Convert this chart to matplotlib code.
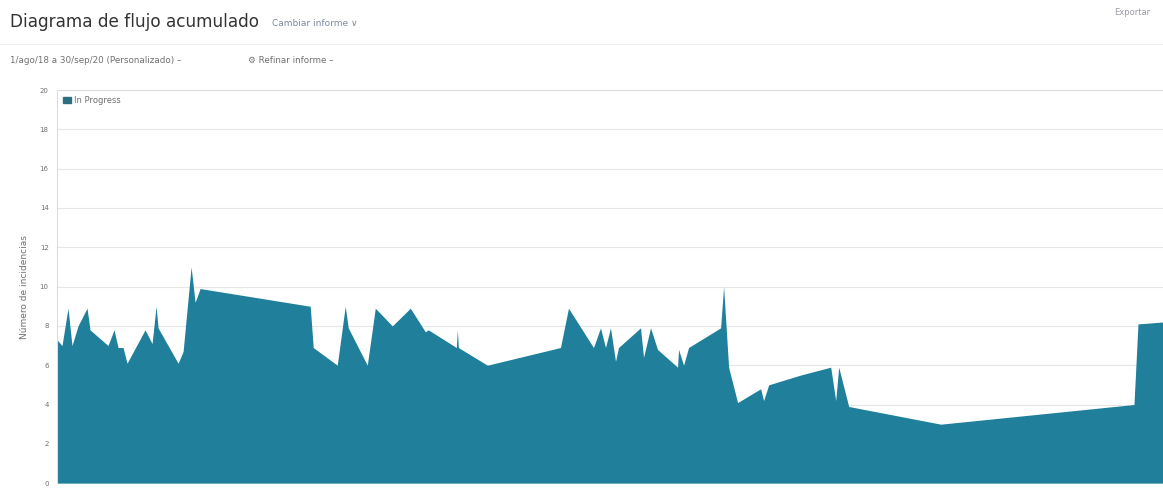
import numpy as np
import matplotlib
matplotlib.use("Agg")
import matplotlib.pyplot as plt
from matplotlib.patches import Patch

# datos (dia desde el inicio, incidencias en curso)
dias = [0, 5, 11, 15, 21, 30, 33, 51, 57, 61, 66, 70, 88, 95, 99, 101,
        121, 126, 134, 138, 143, 253, 256, 280, 288, 291, 310, 318, 335,
        353, 368, 371, 399, 400, 401, 430, 503, 511, 536, 543, 548, 553,
        558, 561, 583, 586, 593, 600, 620, 621, 626, 631, 663, 666, 671,
        680, 703, 706, 711, 743, 773, 778, 781, 791, 883, 1076, 1080, 1105]
en_curso = [7.3, 7.0, 8.9, 7.0, 8.0, 8.9, 7.8, 7.0, 7.8, 6.9, 6.9, 6.1,
            7.8, 7.1, 9.0, 7.9, 6.1, 6.7, 11.0, 9.2, 9.9, 9.0, 6.9, 6.0,
            9.0, 7.9, 6.0, 8.9, 8.0, 8.9, 7.7, 7.8, 6.9, 7.8, 6.9, 6.0,
            6.9, 8.9, 6.9, 7.9, 6.9, 7.9, 6.2, 6.9, 7.9, 6.4, 7.9, 6.8,
            5.9, 6.8, 6.0, 6.9, 7.9, 10.0, 5.9, 4.1, 4.8, 4.2, 5.0, 5.5,
            5.9, 4.2, 5.9, 3.9, 3.0, 4.0, 8.1, 8.2]
y_ticks = [0, 2, 4, 6, 8, 10, 12, 14, 16, 18, 20]

color_area = '#207f9a'
gris = '#707070'

fig = plt.figure(figsize=(11.63, 4.92), dpi=100)

# cabecera del informe
fig.text(0.009, 0.955, 'Diagrama de flujo acumulado', fontsize=12.2,
         color='#333333', va='center', ha='left')
fig.text(0.234, 0.952, 'Cambiar informe \u2228', fontsize=6.5,
         color='#7a8aa0', va='center', ha='left')
fig.line = fig.add_artist(plt.Line2D([0.0, 1.0], [0.91, 0.91], color='#f0f0f0',
                                     linewidth=0.8, transform=fig.transFigure))
fig.text(0.009, 0.878, '1/ago/18 a 30/sep/20 (Personalizado) \u2013', fontsize=6.3,
         color=gris, va='center', ha='left')
fig.text(0.213, 0.878, '\u2699 Refinar informe \u2013', fontsize=6.3,
         color=gris, va='center', ha='left')
fig.text(0.958, 0.975, 'Exportar', fontsize=6, color='#9a9aa8',
         va='center', ha='left')

ax = fig.add_axes([0.049, 0.018, 0.951, 0.799])
ax.fill_between(dias, en_curso, 0, color=color_area, linewidth=0)

ax.set_xlim(0, dias[-1])
ax.set_ylim(0, 20)
ax.set_yticks(y_ticks)
ax.set_yticklabels([str(t) for t in y_ticks], fontsize=5, color=gris)
ax.set_xticks([])
ax.tick_params(axis='y', length=0, pad=6)
ax.grid(axis='y', color='#e6e6e6', linewidth=0.8)
ax.set_axisbelow(True)
for lado in ['right', 'bottom']:
    ax.spines[lado].set_visible(False)
for lado in ['left', 'top']:
    ax.spines[lado].set_color('#dddddd')
    ax.spines[lado].set_linewidth(0.8)

ax.set_ylabel('N\u00famero de incidencias', fontsize=6.5, color=gris, labelpad=8)

ax.legend(handles=[Patch(color='#2a6f82', label='In Progress')], loc='upper left',
          frameon=False, fontsize=6, handlelength=1.0, handleheight=0.8,
          handletextpad=0.3, borderaxespad=0.3, labelcolor=gris)

fig.savefig('out.png', dpi=100)
